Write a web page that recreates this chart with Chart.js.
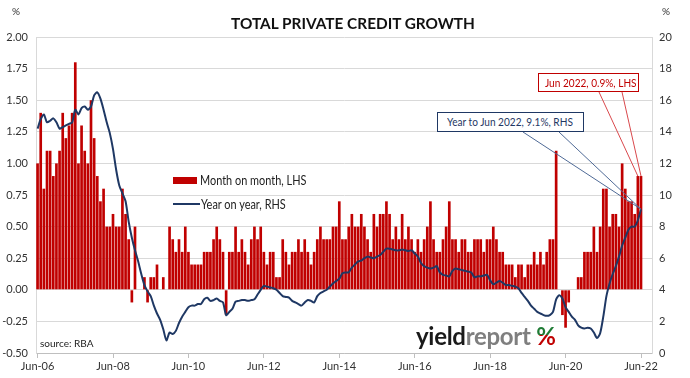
<!DOCTYPE html>
<html><head><meta charset="utf-8">
<script src="https://cdn.jsdelivr.net/npm/chart.js@4"></script>
<style>
body{margin:0;background:#fff;}
#wrap{position:relative;width:690px;height:378px;font-family:Lato,'Open Sans',sans-serif;overflow:hidden;}
canvas{position:absolute;left:0;top:0;}
.t{position:absolute;white-space:nowrap;}
#title{left:353px;top:13px;transform:translateX(-50%) scaleX(0.96);font-weight:700;font-size:16px;color:#111;}
.pc{top:5px;font-size:10px;color:#333;}
.leg{font-size:13px;color:#222;line-height:16px;transform:scaleX(0.84);transform-origin:left center;}
.box{position:absolute;box-sizing:border-box;background:#fff;font-size:12px;white-space:nowrap;overflow:hidden;}
.box span{display:inline-block;transform:scaleX(0.84);transform-origin:left center;}
#logo{left:416px;top:324px;font-weight:700;font-size:24px;line-height:24px;letter-spacing:-0.3px;}
.pct{background:linear-gradient(to bottom,#1e7b34 0%,#1e7b34 50%,#c00000 50%,#c00000 100%);-webkit-background-clip:text;background-clip:text;color:transparent;}
</style></head><body>
<div id="wrap">
<canvas id="c" width="690" height="378"></canvas>
<div class="t" id="title">TOTAL PRIVATE CREDIT GROWTH</div>
<div class="t pc" style="left:12px;">%</div>
<div class="t pc" style="left:662px;">%</div>
<div class="t" style="left:173px;top:177px;width:24px;height:7px;background:#C00000;"></div>
<div class="t leg" style="left:200px;top:172px;">Month on month, LHS</div>
<div class="t" style="left:173px;top:203px;width:27px;height:2px;background:#1F3864;"></div>
<div class="t leg" style="left:201px;top:196px;">Year on year, RHS</div>
<div class="t" style="left:40px;top:337px;font-size:10px;color:#222;">source: RBA</div>
<div class="t" id="logo"><span style="color:#1a1a1a">yield</span><span style="color:#7f7f7f">report</span> <span class="pct">%</span></div>
<div class="box" id="bluebox" style="left:437px;top:112px;width:147px;height:20px;border:1.5px solid #1F3864;color:#1F3864;line-height:17px;padding-left:9px;"><span>Year to Jun 2022, 9.1%, RHS</span></div>
<div class="box" id="redbox" style="left:538px;top:73px;width:101px;height:19px;border:1px solid #C00000;color:#C00000;line-height:17px;padding-left:6px;"><span>Jun 2022, 0.9%, LHS</span></div>
</div>
<script>
// Month-on-month growth, % (LHS), Jun-06 .. Jun-22
const monthOnMonth = [
 1.0,1.4,0.8,1.1,1.1,0.9,1.0,1.1,1.4,1.2,1.3,1.4,
 1.8,1.0,1.3,1.1,1.0,1.5,1.2,0.9,0.7,0.8,0.5,0.5,
 0.6,0.5,0.5,0.8,0.6,0.4,-0.1,0.5,0.0,0.0,0.1,-0.1,
 0.1,0.1,0.2,0.0,0.1,0.0,0.5,0.4,0.3,0.4,0.3,0.5,
 0.3,0.2,0.2,0.2,0.2,0.3,0.3,0.3,0.4,0.5,0.4,0.3,
 -0.2,0.3,0.3,0.5,0.3,0.4,0.3,0.2,0.4,0.5,0.4,0.5,
 0.3,0.2,0.3,0.3,0.1,0.1,0.4,0.3,0.2,0.3,0.3,0.4,
 0.3,0.4,0.3,0.2,0.3,0.4,0.5,0.4,0.4,0.4,0.5,0.5,
 0.7,0.4,0.4,0.5,0.6,0.5,0.5,0.6,0.5,0.4,0.3,0.6,
 0.5,0.6,0.6,0.7,0.6,0.4,0.5,0.4,0.6,0.4,0.5,0.4,
 0.3,0.4,0.3,0.4,0.5,0.7,0.4,0.3,0.3,0.4,0.5,0.7,
 0.4,0.4,0.3,0.4,0.4,0.3,0.3,0.4,0.4,0.4,0.3,0.4,
 0.4,0.5,0.4,0.3,0.3,0.2,0.2,0.2,0.1,0.2,0.2,0.1,
 0.2,0.2,0.3,0.2,0.3,0.2,0.3,0.4,0.4,1.1,0.0,-0.2,
 -0.3,-0.1,0.0,0.0,0.1,0.1,0.3,0.3,0.3,0.5,0.3,0.5,
 0.8,0.8,0.5,0.6,0.6,0.5,1.0,0.8,0.7,0.7,0.6,0.9,0.9
];
// Year-on-year growth, % (RHS)
const yearOnYear = [
 14.2,14.8,15.1,14.6,14.7,14.85,14.6,14.2,14.3,14.4,14.5,14.6,
 15.4,15.1,15.5,15.6,15.4,15.6,16.3,16.5,16.1,15.4,14.6,13.9,
 12.9,11.6,10.6,10.1,9.6,8.3,7.3,6.5,5.8,5.0,4.3,3.9,
 3.6,3.0,2.5,2.1,1.5,0.8,1.3,1.2,1.4,1.9,2.3,2.6,
 2.9,3.0,3.0,3.1,3.1,3.4,3.5,3.3,3.35,3.45,3.3,3.2,
 2.4,2.6,2.8,3.25,3.3,3.35,3.35,3.3,3.35,3.4,3.7,4.0,
 4.25,4.2,4.15,4.1,4.0,3.8,3.6,3.55,3.5,3.3,3.2,3.1,
 3.0,3.2,3.35,3.3,3.2,3.6,3.8,3.9,4.0,4.2,4.4,4.55,
 4.7,5.05,5.1,5.1,5.4,5.6,5.8,5.85,6.0,6.1,6.05,6.0,
 6.1,6.2,6.4,6.6,6.6,6.55,6.5,6.5,6.55,6.5,6.45,6.5,
 6.3,6.1,5.7,5.5,5.4,5.35,5.4,5.5,5.1,4.95,4.9,4.85,
 5.2,5.35,5.3,5.25,5.2,5.15,5.1,4.8,4.85,4.85,4.9,4.95,
 4.6,4.35,4.45,4.55,4.45,4.3,4.3,4.25,4.2,4.1,3.8,3.55,
 3.3,3.0,2.8,2.6,2.5,2.4,2.35,2.4,2.6,3.4,3.65,3.45,
 2.9,2.6,2.3,2.1,1.75,1.6,1.55,1.6,1.55,1.3,0.95,1.25,
 2.3,3.6,4.4,5.0,5.5,6.1,6.8,7.3,7.8,8.0,8.0,8.4,9.1
];
const tickLabels = ['Jun-06','Jun-08','Jun-10','Jun-12','Jun-14','Jun-16','Jun-18','Jun-20','Jun-22'];
const monNames = ['Jan','Feb','Mar','Apr','May','Jun','Jul','Aug','Sep','Oct','Nov','Dec'];
const slotCount = 196; // axis runs Jun-06 .. Sep-22
const months = [];
for (let k = 0; k < slotCount; k++) {
  const m = (5 + k) % 12, y = 2006 + Math.floor((5 + k) / 12);
  months.push(monNames[m] + '-' + String(y % 100).padStart(2, '0'));
}
const isMajor = i => tickLabels.includes(months[i]);
const tickFont = {family:'Lato', size:11};

const leaders = {
  id:'leaders',
  afterDatasetsDraw(chart){
    const ctx = chart.ctx;
    const bars = chart.getDatasetMeta(0).data;
    const line = chart.getDatasetMeta(1).data;
    const n = monthOnMonth.length - 1;
    const b1 = bars[n-1], b2 = bars[n], p = line[yearOnYear.length - 1];
    ctx.save();
    ctx.lineWidth = 1;
    ctx.strokeStyle = '#d9484c';
    ctx.beginPath();
    ctx.moveTo(599, 92); ctx.lineTo(b1.x, b1.y);
    ctx.moveTo(622, 92); ctx.lineTo(b2.x, b2.y);
    ctx.stroke();
    ctx.strokeStyle = '#4f6a96';
    ctx.beginPath();
    ctx.moveTo(523, 132); ctx.lineTo(p.x, p.y);
    ctx.moveTo(559, 132); ctx.lineTo(p.x, p.y);
    ctx.stroke();
    ctx.restore();
  }
};

new Chart(document.getElementById('c'), {
  type:'bar',
  data:{
    labels: months,
    datasets:[
      {type:'bar', label:'Month on month, LHS', data: monthOnMonth, yAxisID:'y',
       backgroundColor:'#C00000', barPercentage:0.85, categoryPercentage:1.0, order:2},
      {type:'line', label:'Year on year, RHS', data: yearOnYear, yAxisID:'y2',
       borderColor:'#1F3864', borderWidth:2, pointRadius:0, tension:0.25, fill:false, order:1}
    ]
  },
  options:{
    responsive:false, animation:false, devicePixelRatio:1,
    layout:{padding:{top:37,left:0,right:0,bottom:0}},
    plugins:{legend:{display:false}, tooltip:{enabled:false}, title:{display:false}},
    scales:{
      x:{type:'category', offset:true,
         grid:{offset:false, drawOnChartArea:false, drawTicks:true, tickLength:5,
               color: c => isMajor(c.index) ? '#bfbfbf' : 'rgba(0,0,0,0)'},
         border:{display:true, color:'#bfbfbf'},
         ticks:{autoSkip:false, maxRotation:0, minRotation:0, padding:2, color:'#333', font:tickFont,
                callback:(v,i) => isMajor(i) ? months[i] : ''},
         afterFit: s => { s.height = 25; }},
      y:{position:'left', min:-0.5, max:2,
         ticks:{stepSize:0.25, padding:8, color:'#333', font:tickFont, callback:v => Number(v).toFixed(2)},
         grid:{color:'#d9d9d9', drawTicks:false},
         border:{display:true, color:'#d9d9d9'},
         afterFit: s => { s.width = 36; }},
      y2:{position:'right', min:0, max:20,
         ticks:{stepSize:2, padding:7, color:'#333', font:tickFont},
         grid:{display:false, drawOnChartArea:false, drawTicks:false},
         border:{display:true, color:'#d9d9d9'},
         afterFit: s => { s.width = 38; }}
    }
  },
  plugins:[leaders]
});
</script>
</body></html>
